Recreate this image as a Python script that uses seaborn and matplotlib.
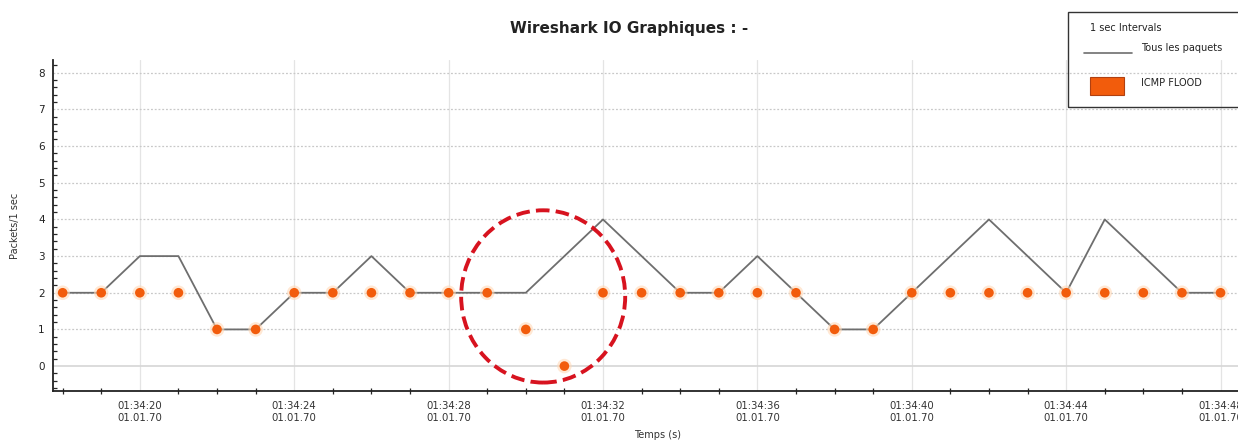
import numpy as np
import pandas as pd
import matplotlib
matplotlib.use("Agg")
import matplotlib.pyplot as plt
from matplotlib.patches import Ellipse, Rectangle
from matplotlib.lines import Line2D
from matplotlib.ticker import MultipleLocator, FixedLocator
import seaborn as sns

# seconds after 01:34:00
seconds = list(range(18, 49))
all_packets = [2, 2, 3, 3, 1, 1, 2, 2, 3, 2, 2, 2, 2, 3, 4, 3,
               2, 2, 3, 2, 1, 1, 2, 3, 4, 3, 2, 4, 3, 2, 2]
icmp_flood = [2, 2, 2, 2, 1, 1, 2, 2, 2, 2, 2, 2, 1, 0, 2, 2,
              2, 2, 2, 2, 1, 1, 2, 2, 2, 2, 2, 2, 2, 2, 2]
major_ticks = [20, 24, 28, 32, 36, 40, 44, 48]
tick_labels = ["01:34:%02d\n01.01.70" % s for s in major_ticks]

df = pd.DataFrame({"t": seconds, "all": all_packets, "icmp": icmp_flood})

sns.set_style("white")
plt.rcParams['font.family'] = ['DejaVu Sans']

W, H = 1238, 445
fig = plt.figure(figsize=(W / 100, H / 100), dpi=100)
ax = fig.add_axes([53 / W, 1 - 391 / H, 1210 / W, 331 / H])

line_col = "#6e6e6e"
dot_col = "#f25c0c"

# grid
for t in major_ticks:
    ax.axvline(t, color="#e4e4e4", lw=0.9, zorder=0)
for y in range(1, 9):
    ax.axhline(y, color="#c8c8c8", lw=0.9, ls=(0, (1.5, 1.5)), zorder=0)
ax.axhline(0, color="#d6d6d6", lw=1.2, zorder=0)

sns.lineplot(data=df, x="t", y="all", ax=ax, color=line_col, lw=1.3, zorder=2)
sns.scatterplot(data=df, x="t", y="icmp", ax=ax, color="#ffd9b8", s=110,
                edgecolor="none", zorder=3, alpha=0.6)
sns.scatterplot(data=df, x="t", y="icmp", ax=ax, color=dot_col, s=48,
                edgecolor="none", zorder=4)

circle = Ellipse((30.45, 1.9), 4.25, 4.7, fill=False, edgecolor="#d7131f",
                 lw=2.8, ls=(0, (3.5, 1.6)), zorder=5)
ax.add_patch(circle)

ax.set_xlim(17.75, 49.1)
ax.set_ylim(-0.68, 8.35)
ax.xaxis.set_major_locator(FixedLocator(major_ticks))
ax.set_xticklabels(tick_labels, fontsize=7.3, color="#333333",
                   linespacing=1.25)
ax.xaxis.set_minor_locator(MultipleLocator(1))
ax.yaxis.set_major_locator(MultipleLocator(1))
ax.yaxis.set_minor_locator(MultipleLocator(0.2))
ax.tick_params(axis="y", which="major", direction="in", length=5, width=1.2,
               labelsize=7.5, colors="#222222", pad=6)
ax.tick_params(axis="y", which="minor", direction="in", length=3, width=0.9,
               left=True)
ax.tick_params(axis="x", which="major", direction="inout", length=8, width=1.2,
               pad=3)
ax.tick_params(axis="x", which="minor", direction="inout", length=5, width=0.9,
               bottom=True)

for side in ["top", "right"]:
    ax.spines[side].set_visible(False)
for side in ["left", "bottom"]:
    ax.spines[side].set_color("#222222")
    ax.spines[side].set_linewidth(1.3)

ax.set_xlabel("Temps (s)", fontsize=7, color="#333333", labelpad=5)
ax.set_ylabel("Packets/1 sec", fontsize=7, color="#333333", labelpad=13)

fig.text(629 / W, 1 - 28 / H, "Wireshark IO Graphiques : -", ha="center",
         va="center", fontsize=11, fontweight="bold", color="#222222")

# legend box drawn by hand (it runs off the right edge)
tf = fig.transFigure
fig.patches.append(Rectangle((1068 / W, 1 - 107 / H), 200 / W, 95 / H,
                             transform=tf, fill=False, edgecolor="#333333",
                             lw=1.0))
fig.text(1090 / W, 1 - 28 / H, "1 sec Intervals", fontsize=7,
         va="center", color="#222222")
fig.lines.append(Line2D([1084 / W, 1132 / W], [1 - 53 / H, 1 - 53 / H],
                        transform=tf, color=line_col, lw=1.2))
fig.text(1141 / W, 1 - 48 / H, "Tous les paquets", fontsize=7,
         va="center", color="#222222")
fig.patches.append(Rectangle((1090 / W, 1 - 95 / H), 34 / W, 18 / H,
                             transform=tf, facecolor=dot_col,
                             edgecolor="#b04010", lw=0.8))
fig.text(1141 / W, 1 - 83 / H, "ICMP FLOOD", fontsize=7,
         va="center", color="#222222")

fig.savefig("out.png", dpi=100)
